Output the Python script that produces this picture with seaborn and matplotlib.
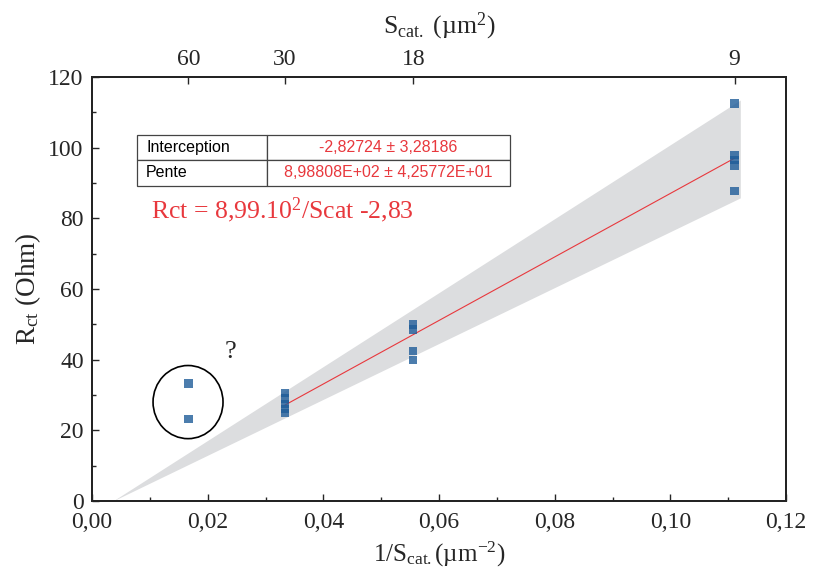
import numpy as np
import pandas as pd
import matplotlib
matplotlib.use("Agg")
import matplotlib.pyplot as plt
import seaborn as sns
from matplotlib.patches import Ellipse
from matplotlib.ticker import MultipleLocator

# measured surfaces (um^2) and charge-transfer resistance (Ohm)
s_cat = [60, 60, 30, 30, 30, 30, 30, 18, 18, 18, 18, 9, 9, 9, 9, 9]
rct = [33.3, 23.3, 30.5, 29.0, 27.5, 26.0, 25.0, 50.0, 48.5, 42.5, 40.0,
       112.5, 98.0, 96.5, 95.0, 87.7]

# linear fit parameters (from the fit table)
intercept = -2.82724
slope = 898.808
fit_x = [1 / 30, 1 / 9]

# grey band
band_x = [0.0036, 0.1121]
band_lo = [0.0, 85.8]
band_hi = [0.0, 113.5]

top_ticks = [60, 30, 18, 9]
x_ticklabels = ["0,00", "0,02", "0,04", "0,06", "0,08", "0,10", "0,12"]

table_rows = [["Interception", "-2,82724 ± 3,28186"],
              ["Pente", "8,98808E+02 ± 4,25772E+01"]]

red = "#e8383d"
blue = "#1f5c99"

sns.set_theme(style="ticks")
plt.rcParams["font.family"] = ["Liberation Serif", "DejaVu Serif"]
plt.rcParams["mathtext.fontset"] = "custom"
plt.rcParams["mathtext.rm"] = "Liberation Serif"
plt.rcParams["mathtext.it"] = "Liberation Serif"
plt.rcParams["mathtext.default"] = "regular"

df = pd.DataFrame({"inv_s": 1 / np.array(s_cat, dtype=float), "rct": rct})

fig = plt.figure(figsize=(8.13, 5.84), dpi=100)
ax = fig.add_axes([0.1132, 0.1421, 0.8536, 0.7260])

ax.fill_between(band_x, band_lo, band_hi, color="#dcdddf", lw=0, zorder=1)
fit_y = [slope * x + intercept for x in fit_x]
sns.lineplot(x=fit_x, y=fit_y, color=red, lw=0.8, ax=ax, zorder=3)
sns.scatterplot(data=df, x="inv_s", y="rct", marker="s", s=36, color=blue,
                alpha=0.8, edgecolor="none", ax=ax, zorder=4)

ax.add_patch(Ellipse((0.0166, 28.0), 0.0121, 20.7, fill=False,
                     ec="black", lw=1.2, zorder=5))
ax.text(0.0239, 42.2, "?", fontsize=19, ha="center", va="center")

ax.text(0.0102, 82.3, "Rct = 8,99.10$^{2}$/Scat -2,83", color=red,
        fontsize=18.5, ha="left", va="center")

tab = ax.table(cellText=table_rows, colWidths=[0.3485, 0.6515],
               bbox=[0.0648, 0.744, 0.5375, 0.119])
tab.auto_set_font_size(False)
for (r, c), cell in tab.get_celld().items():
    cell.set_edgecolor("#444444")
    cell.set_linewidth(0.9)
    txt = cell.get_text()
    txt.set_fontfamily("Liberation Sans")
    txt.set_fontsize(11.5)
    if c == 0:
        txt.set_color("black")
        cell.set_text_props(ha="left")
        cell.PAD = 0.07
    else:
        txt.set_color(red)
        cell.set_text_props(ha="center")

ax.set_xlim(0, 0.12)
ax.set_ylim(0, 120)
ax.set_xticks(np.arange(0, 0.121, 0.02))
ax.set_xticklabels(x_ticklabels)
ax.xaxis.set_minor_locator(MultipleLocator(0.01))
ax.yaxis.set_major_locator(MultipleLocator(20))
ax.yaxis.set_minor_locator(MultipleLocator(10))
ax.tick_params(which="both", direction="in", labelsize=17, width=1.0,
               top=False, right=False)
ax.tick_params(which="major", length=5)
ax.tick_params(which="minor", length=3)
ax.tick_params(axis="x", pad=8)
ax.tick_params(axis="y", pad=6)
for sp in ax.spines.values():
    sp.set_linewidth(1.3)
    sp.set_color("black")

ax.set_xlabel("1/S$_{cat.}$(µm$^{-2}$)", fontsize=18, labelpad=5)
ax.set_ylabel("R$_{ct}$ (Ohm)", fontsize=19.5, labelpad=4)

top = ax.twiny()
top.set_xlim(ax.get_xlim())
top.set_xticks([1 / s for s in top_ticks])
top.set_xticklabels([str(s) for s in top_ticks])
top.tick_params(direction="in", length=5, width=1.0, labelsize=17, pad=5)
top.set_xlabel("S$_{cat.}$ (µm$^{2}$)", fontsize=18.5, labelpad=11)
for sp in top.spines.values():
    sp.set_linewidth(1.3)

fig.savefig("out.png", dpi=100)
